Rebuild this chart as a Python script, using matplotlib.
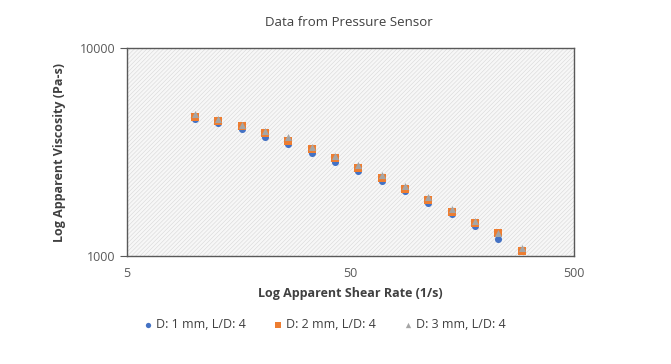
import numpy as np
import matplotlib.pyplot as plt

plt.rcParams['font.family'] = ['Open Sans', 'DejaVu Sans']

# Apparent shear rate (1/s)
shear_rate = [10.1, 12.8, 16.3, 20.7, 26.3, 33.5, 42.6, 54.2, 69.0, 87.7,
              111.5, 141.8, 180.0, 228.0, 291.7]

# Apparent viscosity (Pa-s) for each die
visc_d1 = [4557, 4345, 4064, 3734, 3455, 3127, 2831, 2562, 2286, 2047,
           1804, 1592, 1394, 1211, 1061]
visc_d2 = [4673, 4470, 4217, 3917, 3584, 3267, 2959, 2658, 2379, 2099,
           1859, 1633, 1436, 1286, 1061]
visc_d3 = [4818, 4571, 4249, 3990, 3720, 3332, 3024, 2739, 2443, 2170,
           1915, 1688, 1468, 1294, 1089]

labels = ['D: 1 mm, L/D: 4', 'D: 2 mm, L/D: 4', 'D: 3 mm, L/D: 4']
colors = ['#4472c4', '#ed7d31', '#a5a5a5']
markers = ['o', 's', '^']

fig = plt.figure(figsize=(6.71, 3.64), dpi=100)
ax = fig.add_axes([127 / 671, 1 - 256 / 364, 447 / 671, 208 / 364])

# hatched plot background
ax.set_facecolor('#f7f7f7')
plt.rcParams['hatch.color'] = '#d4d4d4'
plt.rcParams['hatch.linewidth'] = 0.35
ax.add_patch(plt.Rectangle((0, 0), 1, 1, transform=ax.transAxes, facecolor='none',
                           hatch='////////', edgecolor='#d4d4d4', linewidth=0, zorder=0))

for vals, lab, col, mk in zip([visc_d1, visc_d2, visc_d3], labels, colors, markers):
    ax.scatter(shear_rate, vals, s=26, marker=mk, color=col, label=lab, zorder=3,
               linewidths=0)

ax.set_xscale('log')
ax.set_yscale('log')
ax.set_xlim(5, 500)
ax.set_ylim(1000, 10000)
ax.set_xticks([5, 50, 500])
ax.set_xticklabels(['5', '50', '500'])
ax.set_yticks([1000, 10000])
ax.set_yticklabels(['1000', '10000'])
ax.minorticks_off()

for sp in ax.spines.values():
    sp.set_color('#595959')
    sp.set_linewidth(1.0)
ax.tick_params(axis='both', colors='#595959', labelsize=9, length=5, width=0.8)
ax.tick_params(axis='x', length=0, pad=8)

ax.set_xlabel('Log Apparent Shear Rate (1/s)', fontsize=9, fontweight='bold',
              color='#404040', labelpad=5)
ax.set_ylabel('Log Apparent Viscosity (Pa-s)', fontsize=9, fontweight='bold',
              color='#404040', labelpad=10)
fig.text(349 / 671, 1 - 22 / 364, 'Data from Pressure Sensor', ha='center', va='center',
         fontsize=9.5, color='#404040')

leg = fig.legend(loc='center', bbox_to_anchor=(325 / 671, 1 - 325 / 364), ncol=3,
                 frameon=False, fontsize=9, handlelength=0.6, handletextpad=0.4,
                 columnspacing=2.2, markerscale=0.75)
for t in leg.get_texts():
    t.set_color('#404040')

fig.savefig('out.png', dpi=100)
